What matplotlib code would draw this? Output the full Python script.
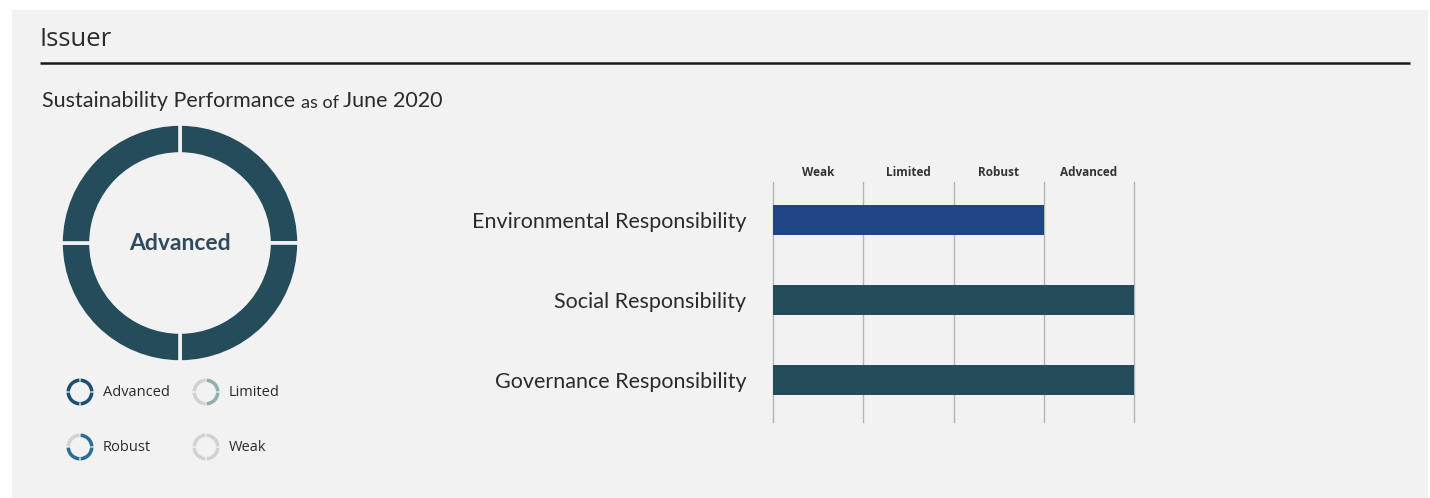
import matplotlib
matplotlib.use("Agg")
import matplotlib.pyplot as plt
from matplotlib.patches import Rectangle, Wedge

# ---- data ----
levels = ["Weak", "Limited", "Robust", "Advanced"]
overall_rating = "Advanced"
overall_score = 4
pillars = ["Environmental Responsibility", "Social Responsibility", "Governance Responsibility"]
pillar_scores = [3, 4, 4]
legend_levels = ["Advanced", "Limited", "Robust", "Weak"]
legend_filled = [4, 2, 3, 0]

# ---- style ----
W, H = 1430, 498
panel_bg = "#f2f2f2"
dark_teal = "#244c5b"
env_blue = "#1f4586"
grid_grey = "#b5b5b5"
text_dark = "#2b2b2b"
font = "Lato"

fig = plt.figure(figsize=(W / 100, H / 100), dpi=100, facecolor="white")

# full-figure canvas in pixel units (y grows downward)
base = fig.add_axes([0, 0, 1, 1])
base.set_xlim(0, W)
base.set_ylim(H, 0)
base.axis("off")
base.add_patch(Rectangle((12, 10), W - 14, H - 10, facecolor=panel_bg, edgecolor="none", zorder=0))

base.text(40, 39, "Issuer", fontsize=18.5, family="Open Sans", color=text_dark, va="center", ha="left")
base.plot([40, 1410], [63, 63], color="#1a1a1a", lw=1.8, solid_capstyle="butt")

t1 = base.text(42, 101, "Sustainability Performance ", fontsize=15.5, family=font, color=text_dark,
               va="center", ha="left")
t2 = base.annotate("as of ", xy=(0, 0), xycoords=t1, xytext=(1, 0), textcoords=t1,
                   fontsize=13, family=font, color=text_dark, va="bottom", ha="left")
t3 = base.annotate("June 2020", xy=(0, 0), xycoords=t2, xytext=(1, 0), textcoords=t2,
                   fontsize=15.5, family=font, color=text_dark, va="bottom", ha="left")

# ---- overall donut ----
cx, cy, r = 180, 243, 119
dax = fig.add_axes([(cx - r) / W, 1 - (cy + r) / H, 2 * r / W, 2 * r / H])
n = len(levels)
seg_colors = [dark_teal if i < overall_score else "#d4d4d4" for i in range(n)]
dax.pie([1] * n, colors=seg_colors, startangle=90, counterclock=False, radius=1,
        wedgeprops=dict(width=30 / r, edgecolor=panel_bg, linewidth=2.6))
dax.set_xlim(-1, 1)
dax.set_ylim(-1, 1)
dax.set_aspect("equal")
dax.axis("off")
dax.text(0, 0, overall_rating, ha="center", va="center", fontsize=16.5, fontweight="bold",
         family=font, color="#2f4b5c")

# ---- legend rings ----
legend_pos = [(80, 392), (206, 392), (80, 447), (206, 447)]
legend_cols = {"Advanced": "#1d4f72", "Limited": "#8fb0b0", "Robust": "#2a6e94", "Weak": "#cfcfcf"}
for name, filled, (lx, ly) in zip(legend_levels, legend_filled, legend_pos):
    for k in range(4):
        theta2 = 90 - k * 90
        theta1 = theta2 - 90
        col = legend_cols[name] if k < filled else "#d2d2d2"
        # canvas y is inverted, so mirror angles
        base.add_patch(Wedge((lx, ly), 13.5, -theta2 + 3, -theta1 - 3, width=3.5,
                             facecolor=col, edgecolor="none", zorder=3))
    base.text(lx + 23, ly, name, fontsize=10.5, family="Open Sans", color=text_dark,
              va="center", ha="left")

# ---- pillar bars ----
x0, x1 = 773, 1134
ytop, ybot = 182, 422
bax = fig.add_axes([x0 / W, 1 - ybot / H, (x1 - x0) / W, (ybot - ytop) / H])
bax.set_facecolor("none")
ypos = list(range(len(pillars)))
bar_cols = [env_blue, dark_teal, dark_teal]
bax.barh(ypos, pillar_scores, height=0.375, color=bar_cols, zorder=2)
bax.set_xlim(0, len(levels))
for g in range(len(levels) + 1):
    bax.axvline(g, color=grid_grey, lw=1, zorder=1, clip_on=False)
for s in bax.spines.values():
    s.set_visible(False)
bax.set_yticks(ypos)
bax.set_yticklabels(pillars, fontsize=15.5, family=font, color=text_dark)
bax.tick_params(axis="y", length=0, pad=19)
bax.set_xticks([i + 0.5 for i in range(len(levels))])
bax.set_xticklabels(levels, fontsize=8.5, fontweight="bold", family="Open Sans", color="#333333")
bax.xaxis.tick_top()
bax.tick_params(axis="x", length=0, pad=2)
bax.set_ylim(len(pillars) - 0.475, -0.475)

fig.savefig("out.png", dpi=100, facecolor="white")
